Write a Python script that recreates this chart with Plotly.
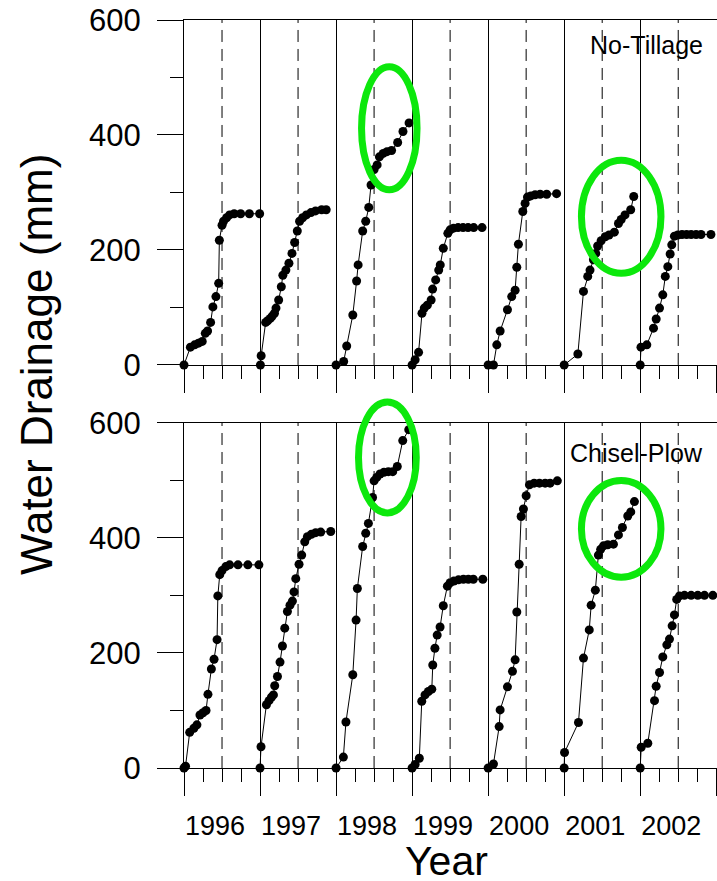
import plotly.graph_objects as go

# ---------------------------------------------------------------------------
# Cumulative water drainage (mm) within each year.
# Positions are given as the fraction of the year elapsed (0 = Jan 1).
# ---------------------------------------------------------------------------
YEARS = [1996, 1997, 1998, 1999, 2000, 2001, 2002]
YEAR_LABELS = ["1996", "1997", "1998", "1999", "2000", "2001", "2002"]

# No-Tillage
NT_1996_T = [0, 0.084, 0.14, 0.19, 0.24, 0.28, 0.31, 0.35, 0.38, 0.42, 0.456, 0.465,
             0.50, 0.52, 0.56, 0.60, 0.66, 0.745, 0.86, 0.995]
NT_1996_V = [0, 31, 35, 38, 41, 55, 59, 74, 101, 119, 142, 217,
             243, 250, 256, 261, 263, 263, 263, 263]
NT_1997_T = [0.005, 0.015, 0.074, 0.10, 0.135, 0.16, 0.19, 0.21, 0.245, 0.28, 0.30, 0.34,
             0.38, 0.42, 0.455, 0.49, 0.52, 0.56, 0.61, 0.67, 0.73, 0.81, 0.87]
NT_1997_V = [0, 16, 74, 77, 81, 85, 90, 99, 113, 136, 156, 165,
             177, 194, 213, 233, 250, 256, 261, 265, 268, 270, 270]
NT_1998_T = [0, 0.10, 0.14, 0.22, 0.27, 0.29, 0.35, 0.39, 0.43, 0.46, 0.50, 0.54,
             0.57, 0.62, 0.67, 0.73, 0.81, 0.88, 0.96]
NT_1998_V = [0, 6, 33, 87, 146, 174, 233, 250, 274, 313, 340, 348,
             362, 368, 371, 373, 387, 406, 421]
NT_1999_T = [0, 0.04, 0.085, 0.13, 0.16, 0.20, 0.25, 0.27, 0.31, 0.35, 0.37, 0.41,
             0.47, 0.50, 0.545, 0.605, 0.67, 0.736, 0.81, 0.92]
NT_1999_V = [0, 9, 22, 90, 99, 104, 113, 132, 148, 165, 174, 203,
             229, 235, 238, 239, 239, 239, 239, 239]
NT_2000_T = [0, 0.07, 0.114, 0.158, 0.254, 0.31, 0.355, 0.377, 0.398, 0.456, 0.486,
             0.517, 0.561, 0.618, 0.684, 0.77, 0.90]
NT_2000_V = [0, 0, 35, 59, 96, 119, 130, 170, 210, 267, 281,
             292, 294, 296, 297, 297, 298]
NT_2001_T = [0, 0.18, 0.254, 0.31, 0.34, 0.385, 0.415, 0.44, 0.486, 0.54, 0.59, 0.66,
             0.714, 0.75, 0.80, 0.875, 0.915]
NT_2001_V = [0, 19, 128, 154, 165, 183, 194, 207, 216, 223, 226, 231,
             246, 253, 261, 270, 293]
NT_2002_T = [0, 0.01, 0.087, 0.175, 0.21, 0.254, 0.297, 0.33, 0.363, 0.394, 0.415,
             0.45, 0.494, 0.55, 0.61, 0.67, 0.735, 0.80, 0.93]
NT_2002_V = [0, 31, 35, 64, 80, 99, 122, 154, 171, 193, 209,
             224, 226, 227, 227, 227, 227, 227, 227]

# Chisel-Plow
CP_1996_T = [0, 0.02, 0.075, 0.13, 0.17, 0.21, 0.25, 0.29, 0.315, 0.36, 0.395, 0.435,
             0.445, 0.47, 0.50, 0.55, 0.60, 0.71, 0.84, 0.985]
CP_1996_V = [0, 3, 62, 69, 75, 92, 96, 100, 128, 172, 189, 223,
             299, 336, 343, 350, 353, 353, 353, 353]
CP_1997_T = [0, 0.013, 0.084, 0.118, 0.15, 0.176, 0.193, 0.229, 0.263, 0.295, 0.325,
             0.36, 0.394, 0.426, 0.447, 0.47, 0.513, 0.548, 0.588, 0.623, 0.675, 0.732,
             0.798, 0.93]
CP_1997_V = [0, 37, 110, 117, 123, 127, 143, 159, 184, 212, 243,
             272, 283, 290, 306, 329, 354, 370, 393, 402, 406, 409,
             410, 411]
CP_1998_T = [0, 0.096, 0.13, 0.22, 0.263, 0.28, 0.35, 0.39, 0.425, 0.48, 0.50, 0.535,
             0.578, 0.63, 0.688, 0.745, 0.805, 0.877, 0.956]
CP_1998_V = [0, 19, 80, 162, 257, 312, 385, 408, 425, 470, 499, 505,
             511, 514, 515, 515, 524, 569, 588]
CP_1999_T = [0, 0.04, 0.095, 0.127, 0.17, 0.214, 0.259, 0.272, 0.30, 0.33, 0.368, 0.41,
             0.464, 0.50, 0.55, 0.61, 0.675, 0.74, 0.805, 0.93]
CP_1999_V = [0, 6, 17, 116, 127, 133, 137, 179, 208, 231, 245, 282,
             316, 322, 325, 327, 328, 328, 328, 328]
CP_2000_T = [0, 0.07, 0.145, 0.158, 0.254, 0.32, 0.355, 0.377, 0.408, 0.434, 0.464,
             0.50, 0.543, 0.605, 0.675, 0.75, 0.815, 0.91]
CP_2000_V = [0, 7, 72, 101, 141, 168, 188, 271, 354, 437, 450,
             473, 492, 495, 495, 495, 495, 499]
CP_2001_T = [0, 0.005, 0.188, 0.254, 0.33, 0.355, 0.41, 0.45, 0.48, 0.517, 0.573,
             0.648, 0.714, 0.766, 0.836, 0.876, 0.924]
CP_2001_V = [0, 27, 79, 191, 240, 283, 309, 370, 380, 386, 388,
             389, 405, 418, 438, 445, 463]
CP_2002_T = [0, 0.013, 0.10, 0.188, 0.21, 0.254, 0.297, 0.35, 0.385, 0.42, 0.45,
             0.48, 0.517, 0.582, 0.67, 0.757, 0.845, 0.955]
CP_2002_V = [0, 36, 43, 117, 142, 166, 193, 214, 224, 247, 266,
             293, 299, 300, 300, 300, 300, 300]

NO_TILLAGE = [(NT_1996_T, NT_1996_V), (NT_1997_T, NT_1997_V), (NT_1998_T, NT_1998_V),
              (NT_1999_T, NT_1999_V), (NT_2000_T, NT_2000_V), (NT_2001_T, NT_2001_V),
              (NT_2002_T, NT_2002_V)]
CHISEL_PLOW = [(CP_1996_T, CP_1996_V), (CP_1997_T, CP_1997_V), (CP_1998_T, CP_1998_V),
               (CP_1999_T, CP_1999_V), (CP_2000_T, CP_2000_V), (CP_2001_T, CP_2001_V),
               (CP_2002_T, CP_2002_V)]

# Highlighted periods: (panel, centre year, centre mm, half-width yr, half-height mm)
HIGHLIGHTS = [
    ("top", 1998.700, 411.7, 0.365, 107.0),
    ("top", 2001.750, 257.9, 0.523, 98.3),
    ("bottom", 1998.675, 539.6, 0.380, 96.4),
    ("bottom", 2001.750, 415.5, 0.523, 83.9),
]

# ---------------------------------------------------------------------------
X_RANGE = [1996, 2003.01]
Y_RANGE = [0, 600]
DOM_TOP = [0.5388, 1.0]
DOM_BOT = [0.0, 0.4616]
FONT = "Arial, Liberation Sans, sans-serif"

fig = go.Figure()

for segs, xa, ya in ((NO_TILLAGE, "x", "y"), (CHISEL_PLOW, "x2", "y2")):
    for year, (t, v) in zip(YEARS, segs):
        fig.add_trace(go.Scatter(
            x=[year + f for f in t], y=v, xaxis=xa, yaxis=ya,
            mode="lines+markers", showlegend=False, cliponaxis=False,
            line=dict(color="black", width=1),
            marker=dict(color="black", size=9),
        ))

# dashed mid-year separators
for xa, ya in (("x", "y"), ("x2", "y2")):
    for year in YEARS:
        fig.add_shape(type="line", xref=xa, yref=ya, x0=year + 0.5, x1=year + 0.5,
                      y0=Y_RANGE[0], y1=Y_RANGE[1], layer="below",
                      line=dict(color="black", width=1, dash="12px,7px"))


def to_paper(xv, yv, dom):
    px = (xv - X_RANGE[0]) / (X_RANGE[1] - X_RANGE[0])
    py = dom[0] + (yv - Y_RANGE[0]) / (Y_RANGE[1] - Y_RANGE[0]) * (dom[1] - dom[0])
    return px, py


for panel, xc, yc, hx, hy in HIGHLIGHTS:
    dom = DOM_TOP if panel == "top" else DOM_BOT
    x0, y0 = to_paper(xc - hx, yc - hy, dom)
    x1, y1 = to_paper(xc + hx, yc + hy, dom)
    fig.add_shape(type="circle", xref="paper", yref="paper",
                  x0=x0, x1=x1, y0=y0, y1=y1,
                  line=dict(color="#0ce80c", width=7), layer="above")

quarters = [y + q for y in YEARS for q in (0.25, 0.5, 0.75)]


def xaxis_cfg(anchor, labels):
    cfg = dict(
        range=X_RANGE, anchor=anchor, domain=[0, 1],
        tickmode="array", tickvals=YEARS + [2003], ticktext=YEAR_LABELS + [""],
        ticks="outside", ticklen=27, tickwidth=1, tickcolor="black",
        showgrid=True, gridcolor="black", gridwidth=1,
        showline=True, mirror=True, linecolor="black", linewidth=1,
        zeroline=False,
        minor=dict(tickmode="array", tickvals=quarters, ticks="outside", ticklen=13,
                   tickwidth=1, tickcolor="black", showgrid=False),
        showticklabels=labels,
    )
    if labels:
        cfg.update(tickfont=dict(size=27, color="black", family=FONT),
                   ticklabelshift=31, ticklabelstandoff=7)
    return cfg


def yaxis_cfg(anchor, dom):
    return dict(
        range=Y_RANGE, anchor=anchor, domain=dom,
        tickmode="array", tickvals=[0, 200, 400, 600],
        ticks="outside", ticklen=26, tickwidth=1, tickcolor="black",
        showline=True, linecolor="black", linewidth=1,
        showgrid=False, zeroline=False,
        tickfont=dict(size=31, color="black", family=FONT),
        ticklabelstandoff=10,
        minor=dict(tickmode="array", tickvals=[100, 300, 500], ticks="outside",
                   ticklen=13, tickwidth=1, tickcolor="black", showgrid=False),
    )


fig.update_layout(
    width=717, height=881,
    margin=dict(l=184, r=0, t=20, b=113),
    plot_bgcolor="white", paper_bgcolor="white",
    font=dict(family=FONT, color="black"),
    xaxis=xaxis_cfg("y", False),
    yaxis=yaxis_cfg("x", DOM_TOP),
    xaxis2=xaxis_cfg("y2", True),
    yaxis2=yaxis_cfg("x2", DOM_BOT),
    annotations=[
        dict(text="No-Tillage", xref="paper", yref="paper", x=0.9775, y=0.967,
             xanchor="right", yanchor="middle", showarrow=False, font=dict(size=25)),
        dict(text="Chisel-Plow", xref="paper", yref="paper", x=0.9775, y=0.421,
             xanchor="right", yanchor="middle", showarrow=False, font=dict(size=25)),
        dict(text="Year", xref="paper", yref="paper", x=0.4916, y=-0.1243,
             xanchor="center", yanchor="middle", showarrow=False, font=dict(size=41)),
        dict(text="Water Drainage (mm)", xref="paper", yref="paper", x=-0.2777, y=0.5401,
             xanchor="center", yanchor="middle", textangle=-90, showarrow=False,
             font=dict(size=44)),
    ],
)

fig.write_html("out.html")
